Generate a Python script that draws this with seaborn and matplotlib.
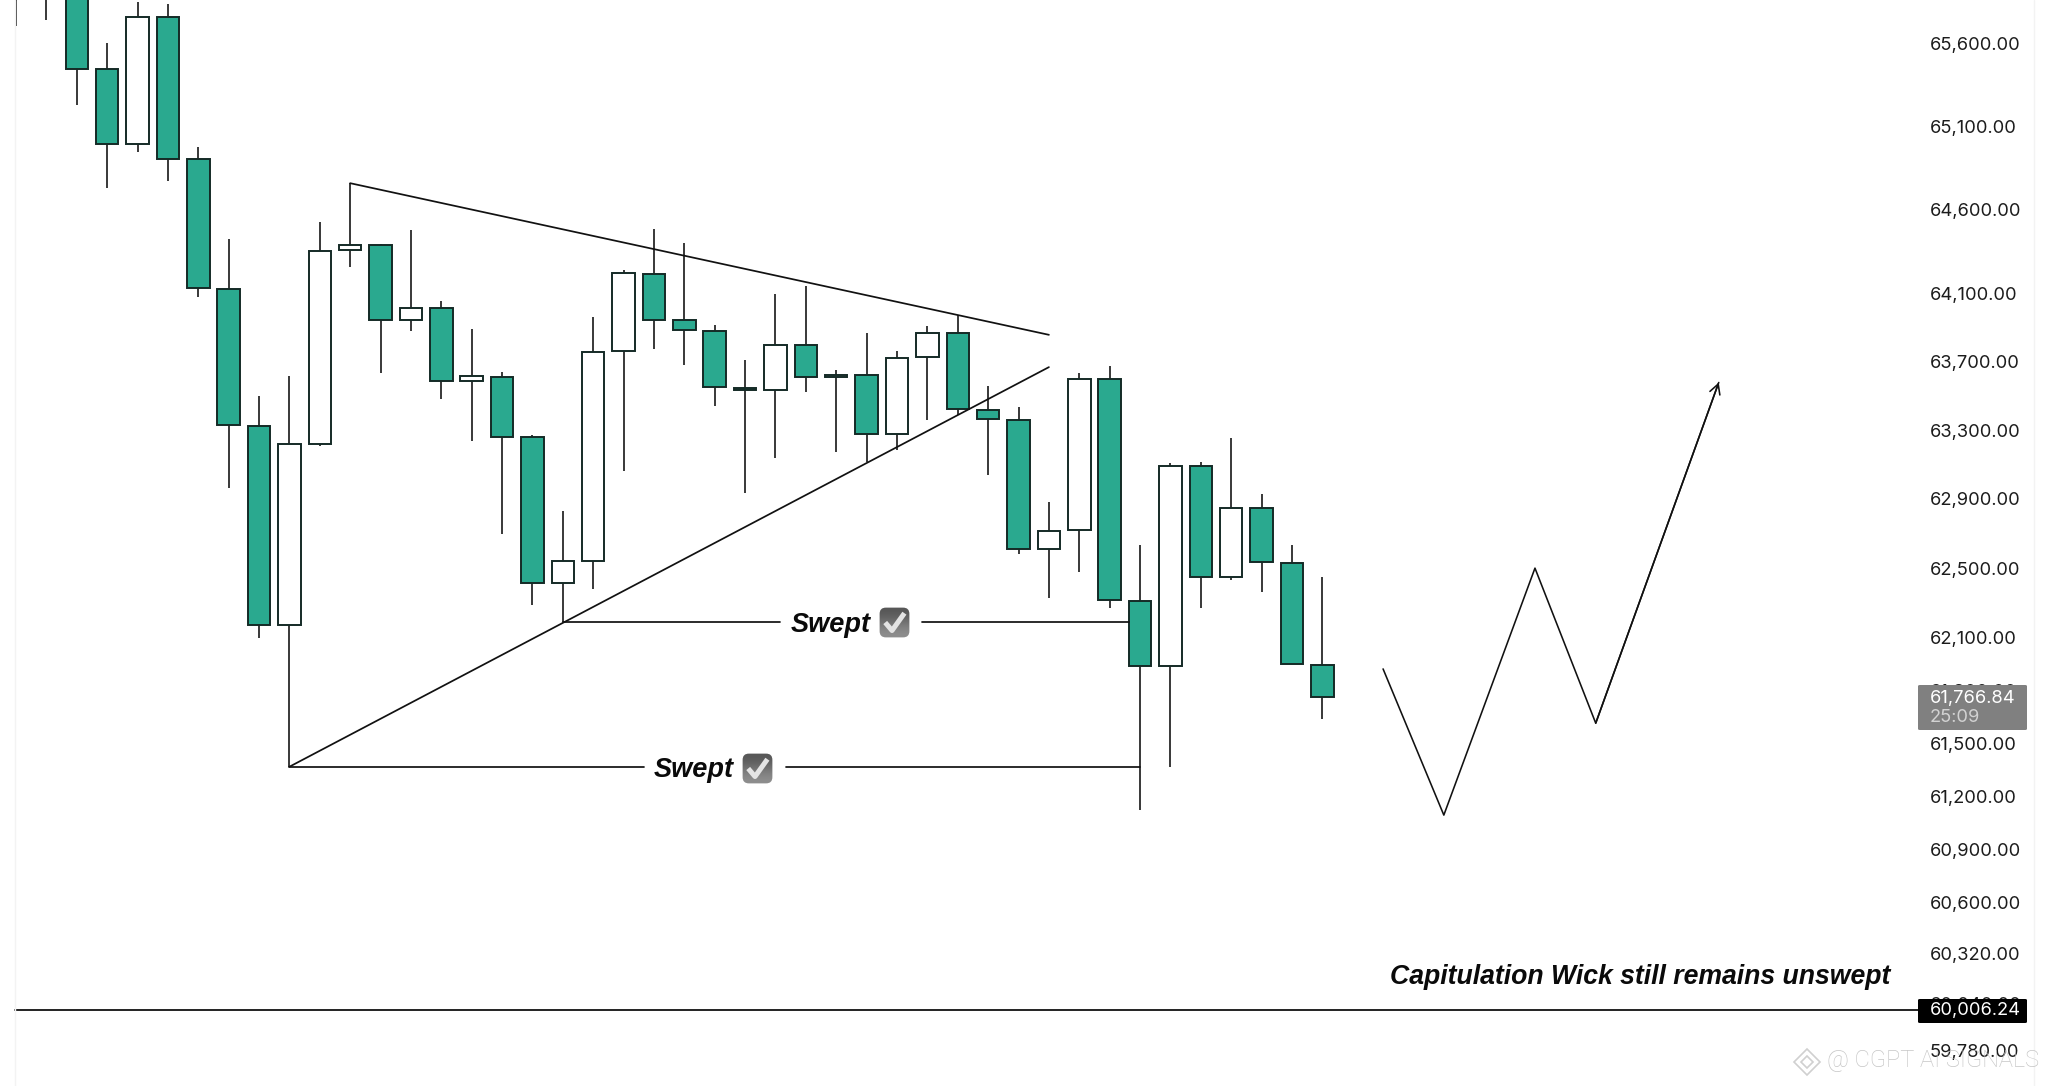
import matplotlib
matplotlib.use('Agg')
import matplotlib.pyplot as plt
import seaborn as sns
from matplotlib.colors import LinearSegmentedColormap
from matplotlib.lines import Line2D
from matplotlib.patches import FancyBboxPatch

# candles, oldest first (the first two sit above the visible window)
wick_high = [66150, 66150, 66300, 65600, 65850, 65838, 64974, 64427, 63501, 63618, 64524,
             64758, 64395, 64480, 64059, 63896, 63640, 63271, 62831, 63963, 64243, 64486,
             64401, 63914, 63712, 64097, 64148, 63653, 63869, 63765, 63908, 63977, 63561,
             63435, 62884, 63634, 63673, 62631, 63108, 63112, 63257, 62928, 62635, 62448]
body_top = [66050, 66050, 66200, 65443, 65758, 65758, 64902, 64132, 63327, 63217, 64357,
            64391, 64391, 64020, 64020, 63618, 63614, 63260, 62539, 63757, 64223, 64221,
            63946, 63884, 63549, 63802, 63802, 63624, 63622, 63724, 63871, 63871, 63419,
            63362, 62714, 63602, 63602, 62312, 63094, 63094, 62847, 62847, 62530, 61947]
body_bottom = [65920, 65920, 65446, 64992, 64992, 64902, 64136, 63333, 62171, 62171, 63219,
               64361, 63949, 63949, 63589, 63587, 63263, 62413, 62413, 62543, 63761, 63949,
               63887, 63554, 63534, 63536, 63614, 63612, 63277, 63277, 63728, 63423, 63365,
               62610, 62610, 62718, 62316, 61938, 61938, 62451, 62451, 62534, 61951, 61761]
wick_low = [65705, 65741, 65228, 64732, 64947, 64772, 64081, 62965, 62099, 61366, 63209,
            64262, 63637, 63884, 63483, 63234, 62698, 62287, 62193, 62379, 63062, 63775,
            63684, 63442, 62937, 63135, 63526, 63174, 63112, 63182, 63362, 63390, 63040,
            62581, 62327, 62477, 62268, 61122, 61366, 62273, 62432, 62365, 61951, 61636]
green_body = [1, 1, 1, 1, 0, 1, 1, 1, 1, 0, 0,
              0, 1, 0, 1, 0, 1, 1, 0, 0, 0, 1,
              1, 1, 1, 0, 1, 0, 1, 0, 0, 1, 1,
              1, 0, 0, 1, 1, 0, 1, 0, 1, 1, 1]

# hand drawn lines as (bar index, price)
upper_trend_x = [11, 34]
upper_trend_y = [64758, 63859]
lower_trend_x = [9, 34]
lower_trend_y = [61366, 63669]
swept_low_x = [[9, 20.67], [25.34, 37]]
swept_low_y = 61366
swept_high_x = [[18, 25.15], [29.83, 36.64]]
swept_high_y = 62188
path_x = [45, 47, 50, 52, 56.05]
path_y = [61922, 61093, 62500, 61613, 63579]
capitulation_price = 60006.24
last_price = 61766.84

ticks = [65600, 65100, 64600, 64100, 63700, 63300, 62900, 62500, 62100, 61800,
         61500, 61200, 60900, 60600, 60320, 60040, 59780]
tick_labels = [f'{t:,.2f}' for t in ticks]

green = '#2aa98f'
ink = '#161616'
edge = '#142a26'


def fx(x):
    return x / 2048


def fy(y):
    return 1 - y / 1086


sns.set_style('white')
fig = plt.figure(figsize=(20.48, 10.86), dpi=100, facecolor='white')
ax = fig.add_axes([0, 0, 1922 / 2048, 1])
ax.set_yscale('log')

bars = list(range(len(wick_high)))
ax.vlines(bars, wick_low, wick_high, color=ink, lw=1.2, zorder=2)
colors = [green if g else 'white' for g in green_body]
heights = [t - b for t, b in zip(body_top, body_bottom)]
ax.bar(bars, heights, bottom=body_bottom, width=0.74, color=colors,
       edgecolor=edge, linewidth=1.4, zorder=3)


def draw_line(xs, ys, lw=1.25):
    sns.lineplot(x=xs, y=ys, ax=ax, color='#111111', lw=lw, sort=False,
                 estimator=None, legend=False, zorder=4)


draw_line(upper_trend_x, upper_trend_y)
draw_line(lower_trend_x, lower_trend_y)
for seg in swept_low_x:
    draw_line(seg, [swept_low_y, swept_low_y])
for seg in swept_high_x:
    draw_line(seg, [swept_high_y, swept_high_y])
draw_line(path_x, path_y, lw=1.15)
ax.annotate('', xy=(path_x[-1], path_y[-1]), xytext=(path_x[-2], path_y[-2]),
            arrowprops=dict(arrowstyle='->,head_length=0.7,head_width=0.38', color='#111111',
                            lw=1.15, shrinkA=0, shrinkB=0), zorder=4)
ax.axhline(capitulation_price, color='#111111', lw=1.3, xmin=15 / 1922, zorder=4)

ax.set_xlim(-0.5267, 62.74)
ax.set_ylim(59586, 65861)
ax.set_xticks([])
ax.set_yticks(ticks, labels=tick_labels)
ax.minorticks_off()
ax.yaxis.tick_right()
ax.tick_params(axis='y', length=0, pad=5.8, labelsize=13.2, labelcolor='#1c1c1c')
for lab in ax.get_yticklabels():
    lab.set_family(['Inter', 'DejaVu Sans'])
sns.despine(ax=ax, left=True, bottom=True, right=True, top=True)

# faint pane borders
for x in (15, 2034):
    fig.add_artist(Line2D([fx(x), fx(x)], [0, 1], color='#f3f3f3', lw=1, zorder=0.5))

# price boxes on the scale
boxes = [(1918, 685, 109, 45, '#808080'), (1918, 999, 109, 24, '#000000')]
for x, y, w, h, c in boxes:
    fig.add_artist(FancyBboxPatch((fx(x), fy(y + h)), w / 2048, h / 1086,
                                  boxstyle='round,pad=0,rounding_size=0.001',
                                  fc=c, ec='none', zorder=2))
scale_font = ['Inter', 'DejaVu Sans']
fig.text(fx(1930), fy(698), f'{last_price:,.2f}', color='white', fontsize=13.2,
         family=scale_font, va='center', zorder=5)
fig.text(fx(1930), fy(718), '25:09', color='#d2d2d2', fontsize=13.2,
         family=scale_font, va='center', zorder=5)
fig.text(fx(1930), fy(1011), f'{capitulation_price:,.2f}', color='white', fontsize=13.2,
         family=scale_font, va='center', zorder=5)

label_font = ['Liberation Sans', 'DejaVu Sans']
check_cmap = LinearSegmentedColormap.from_list('check', ['#555555', '#909090'])


def swept(cx, cy, box_x, box_y):
    fig.text(fx(cx), fy(cy), 'Swept', family=label_font, style='italic', weight='bold',
             fontsize=19.5, color='#0a0a0a', ha='center', va='center', zorder=5)
    size = 31
    box = fig.add_axes([fx(box_x), fy(box_y + size), size / 2048, size / 1086], zorder=5)
    box.axis('off')
    im = box.imshow([[0], [1]], cmap=check_cmap, extent=(0, 1, 0, 1), aspect='auto',
                    interpolation='bicubic')
    clip = FancyBboxPatch((0.02, 0.02), 0.96, 0.96, boxstyle='round,pad=0,rounding_size=0.2',
                          transform=box.transData, fc='none', ec='none')
    box.add_patch(clip)
    im.set_clip_path(clip)
    box.plot([0.2, 0.42, 0.82], [0.5, 0.24, 0.8], color='#e4e4e4', lw=3.6, solid_capstyle='butt')
    box.set_xlim(0, 1)
    box.set_ylim(0, 1)


swept(830.5, 625, 879, 607)
swept(694, 770, 742, 753)

fig.text(fx(1890), fy(977), 'Capitulation Wick still remains unswept', family=label_font,
         style='italic', weight='bold', fontsize=19.2, color='#0a0a0a',
         ha='right', va='center', zorder=5)

# watermark
fig.text(fx(1827), fy(1061), '@ CGPT AI SIGNALS', family=['Roboto', 'DejaVu Sans'],
         fontsize=17, color='#c6c6c6', weight='light', va='center', zorder=6)
for ms in (13, 6):
    fig.add_artist(Line2D([fx(1807)], [fy(1062)], marker='D', ms=ms, mfc='none', mec='#d0d0d0',
                          mew=1.2, ls='none', zorder=6))

fig.savefig('out.png', dpi=100)
